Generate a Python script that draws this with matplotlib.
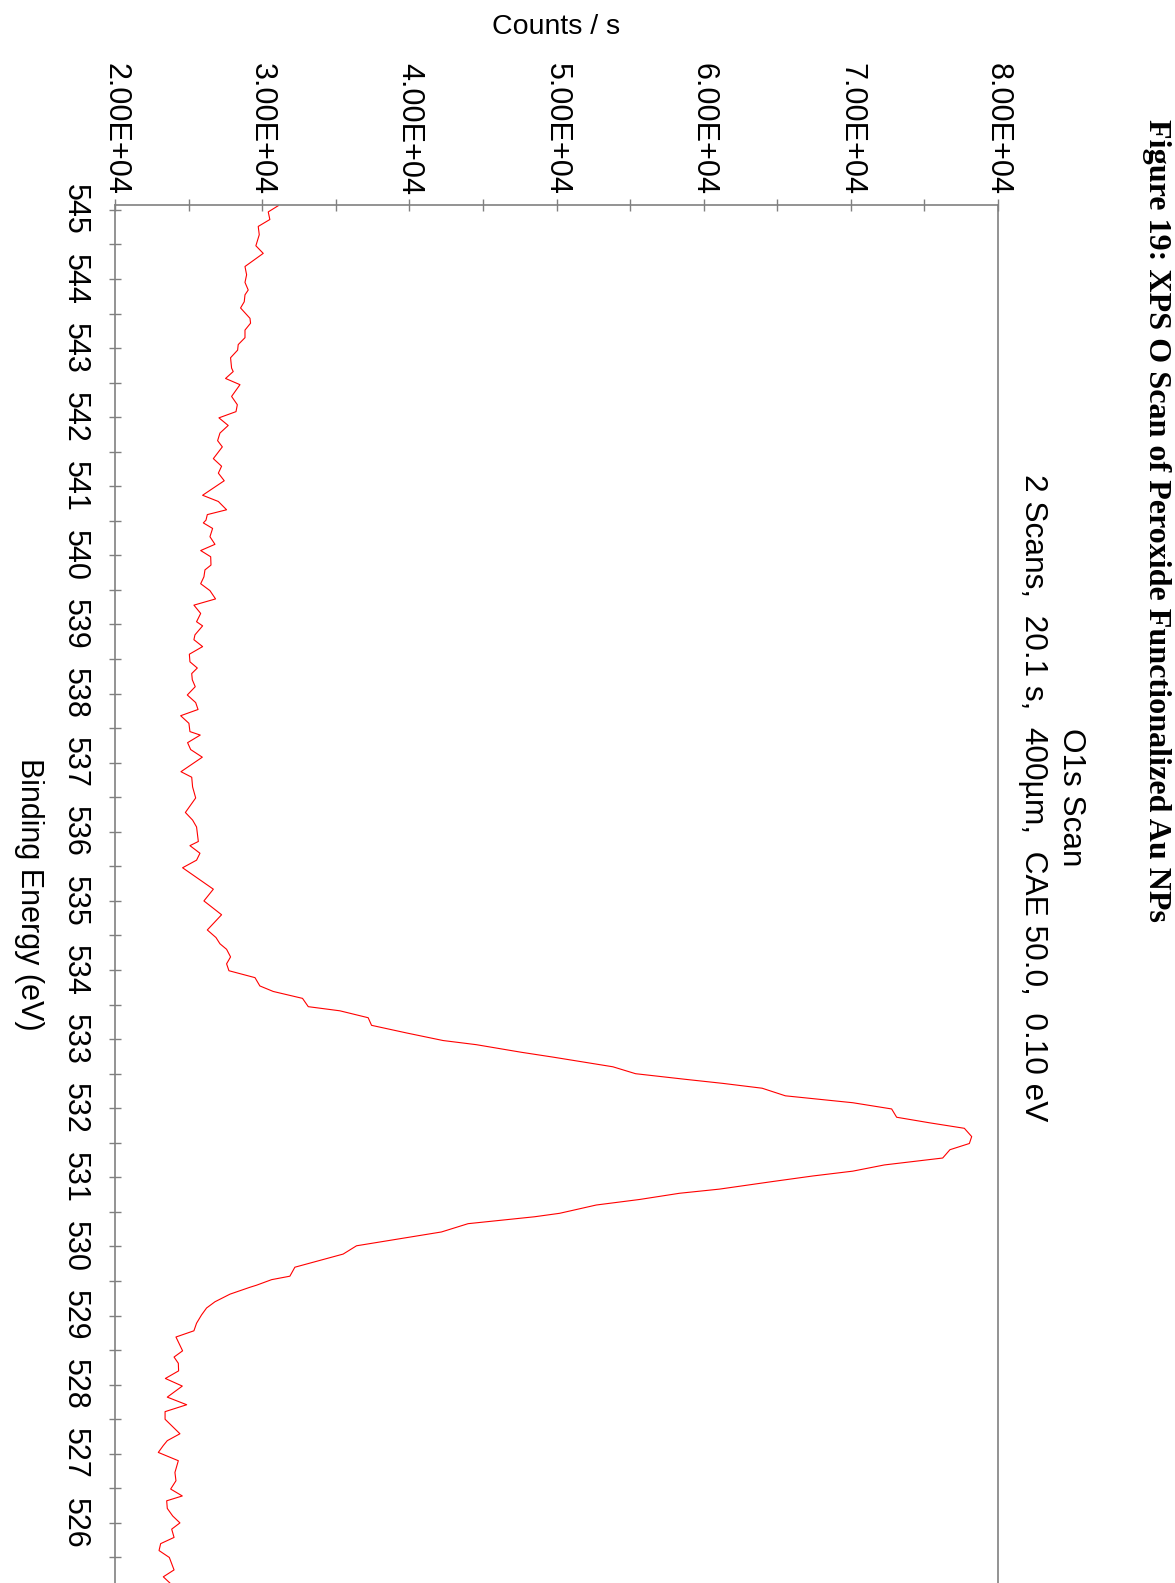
import matplotlib
matplotlib.use("Agg")
import matplotlib.pyplot as plt
from matplotlib.ticker import MultipleLocator, FixedLocator, FuncFormatter

plt.rcParams['font.family'] = ['Liberation Sans', 'DejaVu Sans']

# binding energy (eV) and counts/s
energy = [545.06, 544.97, 544.86, 544.76, 544.64, 544.48, 544.37, 544.18, 544.06, 543.95,
          543.84, 543.77, 543.67, 543.58, 543.43, 543.36, 543.26, 543.15, 543.05, 542.97,
          542.86, 542.71, 542.66, 542.56, 542.47, 542.30, 542.18, 542.08, 541.99, 541.88,
          541.77, 541.66, 541.57, 541.40, 541.29, 541.19, 541.08, 540.87, 540.78, 540.66,
          540.59, 540.51, 540.47, 540.39, 540.27, 540.16, 540.07, 539.98, 539.86, 539.79,
          539.69, 539.59, 539.49, 539.37, 539.28, 539.16, 539.04, 538.98, 538.85, 538.78,
          538.68, 538.57, 538.46, 538.37, 538.29, 538.20, 538.10, 537.98, 537.87, 537.77,
          537.68, 537.57, 537.45, 537.40, 537.29, 537.19, 537.08, 536.87, 536.79, 536.65,
          536.49, 536.28, 536.17, 536.07, 535.86, 535.80, 535.69, 535.59, 535.48, 535.17,
          535.00, 534.80, 534.58, 534.47, 534.38, 534.30, 534.19, 534.09, 533.99, 533.89,
          533.77, 533.69, 533.59, 533.47, 533.41, 533.31, 533.20, 533.09, 532.98, 532.92,
          532.81, 532.74, 532.60, 532.50, 532.42, 532.36, 532.29, 532.18, 532.08, 531.99,
          531.87, 531.79, 531.71, 531.59, 531.49, 531.40, 531.28, 531.18, 531.09, 531.02,
          530.94, 530.83, 530.77, 530.68, 530.60, 530.48, 530.43, 530.33, 530.21, 530.01,
          529.89, 529.70, 529.57, 529.52, 529.44, 529.41, 529.31, 529.20, 529.11, 529.01,
          528.89, 528.78, 528.69, 528.49, 528.40, 528.31, 528.20, 528.09, 527.98, 527.82,
          527.71, 527.61, 527.50, 527.29, 527.19, 527.12, 527.02, 526.90, 526.73, 526.61,
          526.49, 526.39, 526.32, 526.21, 526.10, 526.00, 525.91, 525.79, 525.70, 525.60,
          525.50, 525.32, 525.22, 525.13]
counts = [31090, 30410, 30520, 29730, 29800, 29570, 30070, 28830, 28940, 28830,
          29050, 28830, 28780, 28530, 29170, 29210, 28830, 28830, 28370, 28330,
          27850, 27920, 28030, 27510, 28490, 27920, 28310, 28220, 27060, 27690,
          27130, 26970, 27290, 26680, 27240, 27020, 27420, 25950, 27020, 27580,
          26270, 26180, 26000, 26630, 26450, 26790, 25820, 26500, 26520, 26110,
          26040, 25820, 26450, 26830, 25360, 25820, 25540, 25950, 25430, 25360,
          25950, 25050, 25090, 25590, 25210, 25250, 25450, 24910, 25480, 25640,
          24460, 25020, 25090, 25790, 24930, 25140, 25930, 24480, 25210, 25270,
          25480, 24780, 25270, 25540, 25660, 25090, 25770, 25540, 24590, 26680,
          26040, 27240, 26270, 26860, 27130, 27580, 27850, 27580, 27740, 29510,
          29840, 30750, 32740, 33130, 35280, 37200, 37430, 39800, 42290, 44550,
          47610, 49760, 53830, 55370, 58700, 61300, 63970, 65550, 70130, 72770,
          73110, 75330, 77710, 78210, 78050, 76730, 76240, 72280, 70130, 67410,
          64690, 61070, 58360, 55640, 52700, 50210, 48510, 43990, 42180, 36410,
          35500, 32220, 31880, 30640, 29620, 29170, 27810, 26790, 26220, 25880,
          25540, 25360, 24140, 24590, 24010, 24300, 24320, 23420, 24570, 23550,
          24870, 23400, 23400, 24410, 23550, 23280, 22940, 24300, 24070, 24140,
          23780, 24570, 23510, 23550, 23920, 24410, 23850, 24010, 23100, 22990,
          23690, 24010, 23280, 23730]

energy_ticks = list(range(526, 546))

title = "Figure 19: XPS O Scan of Peroxide Functionalized Au NPs"
scan_name = "O1s Scan"
scan_info = "2 Scans,  20.1 s,  400µm,  CAE 50.0,  0.10 eV"

fig = plt.figure(figsize=(11.75, 15.83), dpi=100)
# page is turned on its side: counts run across, binding energy runs down
ax = fig.add_axes([0.0979, -0.0057, 0.7515, 0.8762])
ax.plot(counts, energy, color='red', lw=0.8)

ax.set_xlim(20000, 80000)
ax.set_ylim(525, 545.07)
ax.xaxis.set_major_locator(MultipleLocator(10000))
ax.xaxis.set_minor_locator(MultipleLocator(5000))
ax.yaxis.set_major_locator(FixedLocator(energy_ticks))
ax.yaxis.set_minor_locator(MultipleLocator(0.5))
ax.xaxis.set_major_formatter(FuncFormatter(lambda v, p: "%.2E" % v))
ax.yaxis.set_major_formatter(FuncFormatter(lambda v, p: "%d" % round(v)))

ax.xaxis.tick_top()
ax.tick_params(axis='x', which='both', direction='inout', length=9, width=1,
               color='#808080', labelsize=22, pad=2.5, labelrotation=-90)
ax.tick_params(axis='y', which='both', direction='inout', length=9, width=1,
               color='#808080', labelsize=22, pad=14, labelrotation=-90)
for lab in ax.get_yticklabels():
    lab.set_verticalalignment('center')
for s in ax.spines.values():
    s.set_color('#808080')
    s.set_linewidth(1.2)

fig.text(0.473, 0.983, "Counts / s", ha='center', va='center', fontsize=20.5)
fig.text(0.025, 0.4352, "Binding Energy (eV)", ha='center', va='center',
         rotation=-90, fontsize=22)
fig.text(0.9115, 0.4962, scan_name, ha='center', va='center', rotation=-90, fontsize=22.7)
fig.text(0.879, 0.4962, scan_info, ha='center', va='center', rotation=-90, fontsize=22.8)
fig.text(0.9845, 0.6712, title, ha='center', va='center', rotation=-90,
         fontsize=23.1, fontweight='bold', family=['Liberation Serif', 'DejaVu Serif'])

fig.savefig('out.png', dpi=100)
